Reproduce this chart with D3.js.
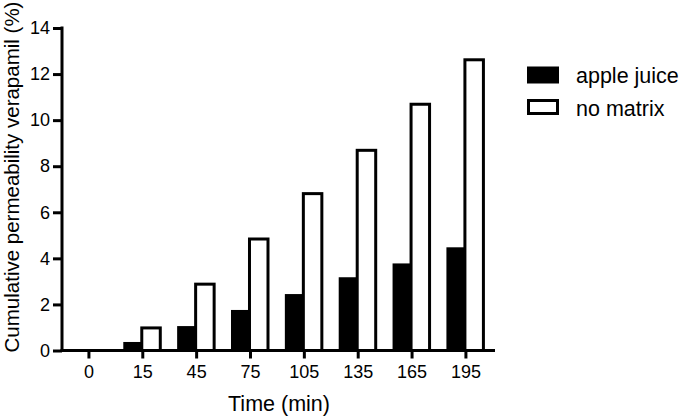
<!DOCTYPE html>
<html>
<head>
<meta charset="utf-8">
<script src="https://cdn.jsdelivr.net/npm/d3@7"></script>
<style>
  body { margin: 0; background: #fff; }
  svg { display: block; font-family: "Liberation Sans", Arial, sans-serif; }
</style>
</head>
<body>
<div id="chart"></div>
<script>
const times = ["0", "15", "45", "75", "105", "135", "165", "195"];
const series = ["apple juice", "no matrix"];
const appleJuice = [0, 0.37, 1.06, 1.76, 2.45, 3.18, 3.78, 4.48];
const noMatrix = [0, 0.98, 2.88, 4.84, 6.81, 8.69, 10.69, 12.62];
const yTicks = [0, 2, 4, 6, 8, 10, 12, 14];

const width = 685,
  height = 418;

let svg = d3
  .select("#chart")
  .append("svg")
  .attr("width", width)
  .attr("height", height);

let x = d3
  .scaleBand()
  .domain(times)
  .range([62, 495])
  .paddingInner(0)
  .paddingOuter(0.02)
  .align(0);

// bars sit either side of the tick
let xs = d3.scaleBand().domain(series).range([-19.5, 19.5]);

let y = d3.scaleLinear().domain([0, 14]).range([350.5, 28]);

let rows = times.map((t, i) => ({
  time: t,
  values: [
    { key: series[0], value: appleJuice[i] },
    { key: series[1], value: noMatrix[i] },
  ],
}));

let groups = svg
  .append("g")
  .selectAll("g")
  .data(rows)
  .enter()
  .append("g")
  .attr("transform", (d) => `translate(${x(d.time) + x.bandwidth() / 2},0)`);

groups
  .selectAll("rect")
  .data((d) => d.values.filter((v) => v.value > 0))
  .enter()
  .append("rect")
  .attr("x", (d) => (d.key === series[0] ? xs(d.key) : xs(d.key) - 1))
  .attr("width", (d) =>
    d.key === series[0] ? xs.bandwidth() : xs.bandwidth() - 1
  )
  .attr("y", (d) => y(d.value))
  .attr("height", (d) => y(0) - y(d.value))
  .attr("fill", (d) => (d.key === series[0] ? "#000" : "#fff"))
  .attr("stroke", (d) => (d.key === series[0] ? "none" : "#000"))
  .attr("stroke-width", 3);

// axes
let xAxis = svg
  .append("g")
  .attr("transform", `translate(0,${y(0)})`)
  .call(d3.axisBottom(x).tickSize(8).tickSizeOuter(0).tickPadding(6.5));

let yAxis = svg
  .append("g")
  .attr("transform", "translate(62,0)")
  .call(
    d3.axisLeft(y).tickValues(yTicks).tickSize(9).tickSizeOuter(0).tickPadding(3)
  );

[xAxis, yAxis].forEach((a) => {
  a.selectAll("path, line").attr("stroke", "#000").attr("stroke-width", 3);
  a.selectAll("text")
    .attr("fill", "#000")
    .style("font-size", "18px")
    .style("font-family", '"Liberation Sans", Arial, sans-serif');
});
xAxis.select(".domain").attr("d", `M${62 - 1.5},0H495`);
yAxis.select(".domain").attr("d", `M0,${y(0) + 1.5}V${y(14) - 1.5}`);

// axis titles
svg
  .append("text")
  .attr("x", 279)
  .attr("y", 411)
  .attr("text-anchor", "middle")
  .style("font-size", "21.5px")
  .text("Time (min)");

svg
  .append("text")
  .attr("transform", "translate(18.5,177) rotate(-90)")
  .attr("text-anchor", "middle")
  .style("font-size", "20.5px")
  .text("Cumulative permeability verapamil (%)");

// legend
let legend = svg
  .append("g")
  .selectAll("g")
  .data(series)
  .enter()
  .append("g")
  .attr("transform", (d, i) => `translate(527,${66.5 + i * 32.5})`);

legend
  .append("rect")
  .attr("x", (d, i) => (i === 0 ? 0 : 1.5))
  .attr("y", (d, i) => (i === 0 ? 0 : 1.5))
  .attr("width", (d, i) => (i === 0 ? 32 : 29))
  .attr("height", (d, i) => (i === 0 ? 17 : 13))
  .attr("fill", (d, i) => (i === 0 ? "#000" : "#fff"))
  .attr("stroke", (d, i) => (i === 0 ? "none" : "#000"))
  .attr("stroke-width", 3);

legend
  .append("text")
  .attr("x", 49)
  .attr("y", 16.5)
  .style("font-size", "21.5px")
  .text((d) => d);
</script>
</body>
</html>
